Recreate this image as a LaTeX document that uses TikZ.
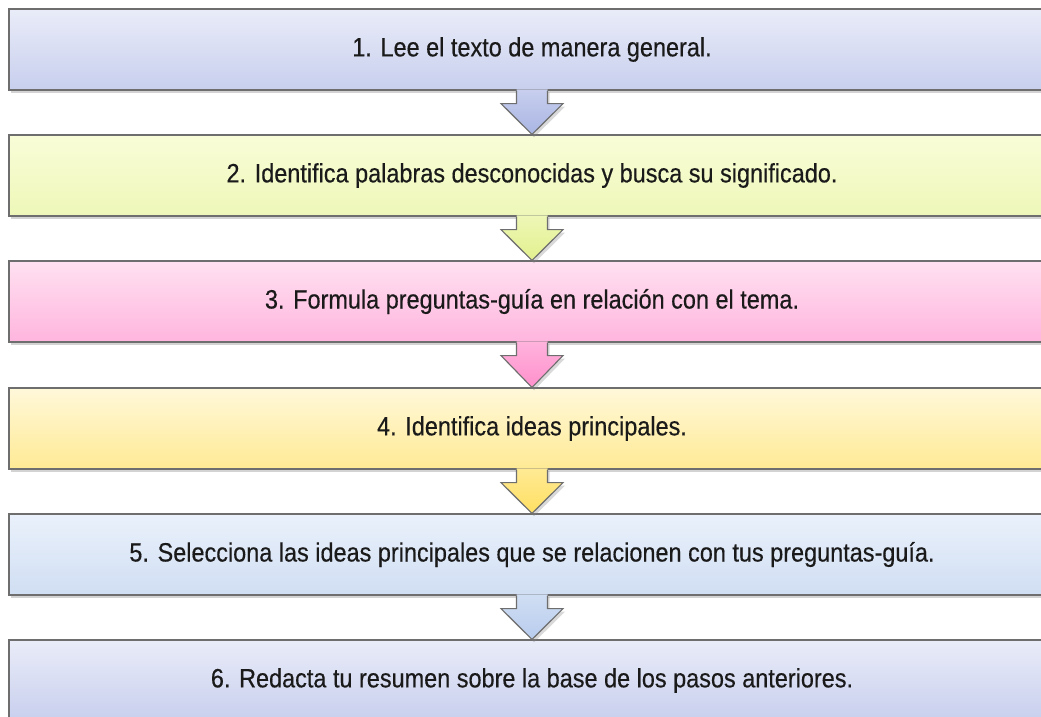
\documentclass[tikz,border=0pt]{standalone}
\usepackage{fontspec}
\setmainfont{Liberation Sans}[FakeStretch=0.885,FakeBold=0.4]
\usetikzlibrary{calc,shadows}
\definecolor{bAt}{HTML}{E9ECF8}\definecolor{bAb}{HTML}{C8CFEE}
\definecolor{bBt}{HTML}{F9FDD8}\definecolor{bBb}{HTML}{EEF7B8}
\definecolor{bCt}{HTML}{FFE1F1}\definecolor{bCb}{HTML}{FFB5DE}
\definecolor{bDt}{HTML}{FFF8DA}\definecolor{bDb}{HTML}{FFEA94}
\definecolor{bEt}{HTML}{EAF1FB}\definecolor{bEb}{HTML}{D0DEF3}
\definecolor{aAt}{HTML}{C8CFEE}\definecolor{aAb}{HTML}{A9B5E3}
\definecolor{aBt}{HTML}{EEF7B6}\definecolor{aBb}{HTML}{E3F08E}
\definecolor{aCt}{HTML}{FFB3DD}\definecolor{aCb}{HTML}{FF90CC}
\definecolor{aDt}{HTML}{FFEA94}\definecolor{aDb}{HTML}{FFDF62}
\definecolor{aEt}{HTML}{D0DEF3}\definecolor{aEb}{HTML}{B8CCEE}
\definecolor{edge}{HTML}{6E6E6E}
\definecolor{txt}{HTML}{1A1A1A}
\tikzset{
  stepbox/.style 2 args={rectangle, draw=edge, line width=1.1pt,
    top color=#1, bottom color=#2, shading angle=0,
    minimum width=1046pt, minimum height=81pt, inner sep=0pt,
    text=txt, font=\fontsize{26.5}{30}\selectfont,
    drop shadow={opacity=0.35, shadow xshift=2pt, shadow yshift=-3pt}},
  arrowfill/.style 2 args={top color=#1, bottom color=#2,
    drop shadow={opacity=0.3, shadow xshift=2pt, shadow yshift=-3pt}},
  arrowline/.style={draw=edge, line width=1.1pt, line join=miter}
}
\begin{document}
\begin{tikzpicture}[x=1pt,y=-1pt]
\useasboundingbox (0,0) rectangle (1041,717);
\node[stepbox={bAt}{bAb}] (b1) at (532,49.5) {1. Lee el texto de manera general.};
\node[stepbox={bBt}{bBb}] (b2) at (532,175.5) {2. Identifica palabras desconocidas y busca su significado.};
\node[stepbox={bCt}{bCb}] (b3) at (532,301.5) {3. Formula preguntas-guía en relación con el tema.};
\node[stepbox={bDt}{bDb}] (b4) at (532,428.5) {4. Identifica ideas principales.};
\node[stepbox={bEt}{bEb}] (b5) at (532,554.5) {5. Selecciona las ideas principales que se relacionen con tus preguntas-guía.};
\node[stepbox={bAt}{bAb}] (b6) at (532,680.5) {6. Redacta tu resumen sobre la base de los pasos anteriores.};
\foreach \u/\v/\ct/\cb in {b1/b2/aAt/aAb, b2/b3/aBt/aBb, b3/b4/aCt/aCb, b4/b5/aDt/aDb, b5/b6/aEt/aEb}{
  \coordinate (s1) at ($(\u.south)+(-15.5,-1.2)$);
  \coordinate (s2) at ($(\u.south)+(-15.5,13)$);
  \coordinate (h1) at ($(\u.south)+(-31,13)$);
  \coordinate (tp) at (\v.north);
  \coordinate (h2) at ($(\u.south)+(31,13)$);
  \coordinate (s3) at ($(\u.south)+(15.5,13)$);
  \coordinate (s4) at ($(\u.south)+(15.5,-1.2)$);
  \path[arrowfill={\ct}{\cb}] (s1) -- (s2) -- (h1) -- (tp) -- (h2) -- (s3) -- (s4) -- cycle;
  \draw[arrowline] ($(\u.south)+(-15.5,0)$) -- (s2) -- (h1) -- (tp) -- (h2) -- (s3) -- ($(\u.south)+(15.5,0)$);
}
\end{tikzpicture}
\end{document}
